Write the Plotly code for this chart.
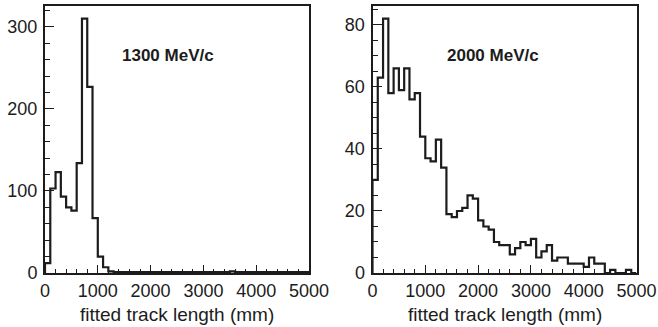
import numpy as np
import plotly.graph_objects as go

# ---- data (100 mm bins, 0-5000 mm) ----
bin_width = 100
n_bins = 50
counts_1300 = [12, 103, 123, 93, 80, 76, 134, 310, 227, 67,
               20, 7, 2, 1, 1, 1, 1, 1, 1, 1,
               1, 1, 1, 1, 1, 1, 1, 1, 1, 1,
               1, 1, 1, 1, 1, 2, 1, 1, 1, 1,
               1, 1, 1, 1, 1, 1, 1, 1, 1, 1]
counts_2000 = [30, 63, 82, 58, 66, 59, 66, 56, 58, 44,
               37, 36, 43, 34, 19, 18, 20, 21, 25, 24,
               17, 15, 14, 10, 9, 9, 6, 8, 10, 9,
               11, 5, 7, 9, 4, 5, 5, 3, 3, 3,
               2, 5, 3, 3, 0, 1, 0, 0, 1, 0]
labels = ["1300 MeV/c", "2000 MeV/c"]
x_title = "fitted track length (mm)"
x_ticks = [0, 1000, 2000, 3000, 4000, 5000]

edges = np.arange(n_bins + 1) * bin_width
INK = "#1c1c1c"
W, H = 658, 327


def step_xy(counts):
    xs = [edges[0]] + list(edges) + [edges[-1]]
    ys = [0] + list(counts) + [counts[-1], 0]
    return xs, ys


fig = go.Figure()
for i, c in enumerate([counts_1300, counts_2000]):
    xs, ys = step_xy(c)
    fig.add_trace(go.Scatter(
        x=xs, y=ys, mode="lines", line=dict(shape="hv", color=INK, width=2.2),
        xaxis="x" if i == 0 else "x2", yaxis="y" if i == 0 else "y2",
        showlegend=False, hoverinfo="skip"))

tickfont = dict(family="Liberation Sans, Arial, sans-serif", size=18, color=INK)

xdom = [[45 / W, 309 / W], [372.5 / W, 636.5 / W]]
ydom = [(H - 273) / H, (H - 6) / H]

common_x = dict(range=[0, 5000], tickvals=x_ticks, ticks="inside", ticklen=8, tickwidth=1,
                tickcolor=INK, showline=True, linewidth=2, linecolor=INK, mirror=True,
                showgrid=False, zeroline=False, tickfont=tickfont, automargin=False,
                ticklabelstandoff=0,
                minor=dict(dtick=200, tick0=0, ticks="inside", ticklen=4, tickwidth=1,
                           tickcolor=INK, showgrid=False))
common_y = dict(ticks="inside", tickwidth=1, ticklen=9, tickcolor=INK, showline=True,
                linewidth=2, linecolor=INK, mirror=True, showgrid=False, zeroline=False,
                tickfont=tickfont, automargin=False, ticklabelstandoff=2)

fig.update_layout(
    width=W, height=H, margin=dict(l=0, r=0, t=0, b=0),
    paper_bgcolor="white", plot_bgcolor="white", template="none",
    xaxis=dict(domain=xdom[0], anchor="y", **common_x),
    xaxis2=dict(domain=xdom[1], anchor="y2", **common_x),
    yaxis=dict(domain=ydom, anchor="x", range=[0, max(counts_1300) * 1.05], dtick=100, tick0=0,
               minor=dict(dtick=20, tick0=0, ticks="inside", ticklen=5, tickwidth=1,
                          tickcolor=INK, showgrid=False), **common_y),
    yaxis2=dict(domain=ydom, anchor="x2", range=[0, max(counts_2000) * 1.05], dtick=20, tick0=0,
                minor=dict(dtick=5, tick0=0, ticks="inside", ticklen=5, tickwidth=1,
                           tickcolor=INK, showgrid=False), **common_y),
)

# axis titles and momentum labels
for i in range(2):
    cx = (xdom[i][0] + xdom[i][1]) / 2
    fig.add_annotation(x=cx, y=(H - 314) / H, xref="paper", yref="paper", text=x_title,
                       showarrow=False, xanchor="center", yanchor="middle",
                       font=dict(family="Liberation Sans, Arial, sans-serif", size=19, color=INK))
lab_x = [120 / W, 445 / W]
for i in range(2):
    fig.add_annotation(x=lab_x[i], y=(H - 55) / H, xref="paper", yref="paper", text="<b>%s</b>" % labels[i],
                       showarrow=False, xanchor="left", yanchor="middle",
                       font=dict(family="Liberation Sans, Arial, sans-serif", size=17, color=INK))

fig.write_html("out.html")
